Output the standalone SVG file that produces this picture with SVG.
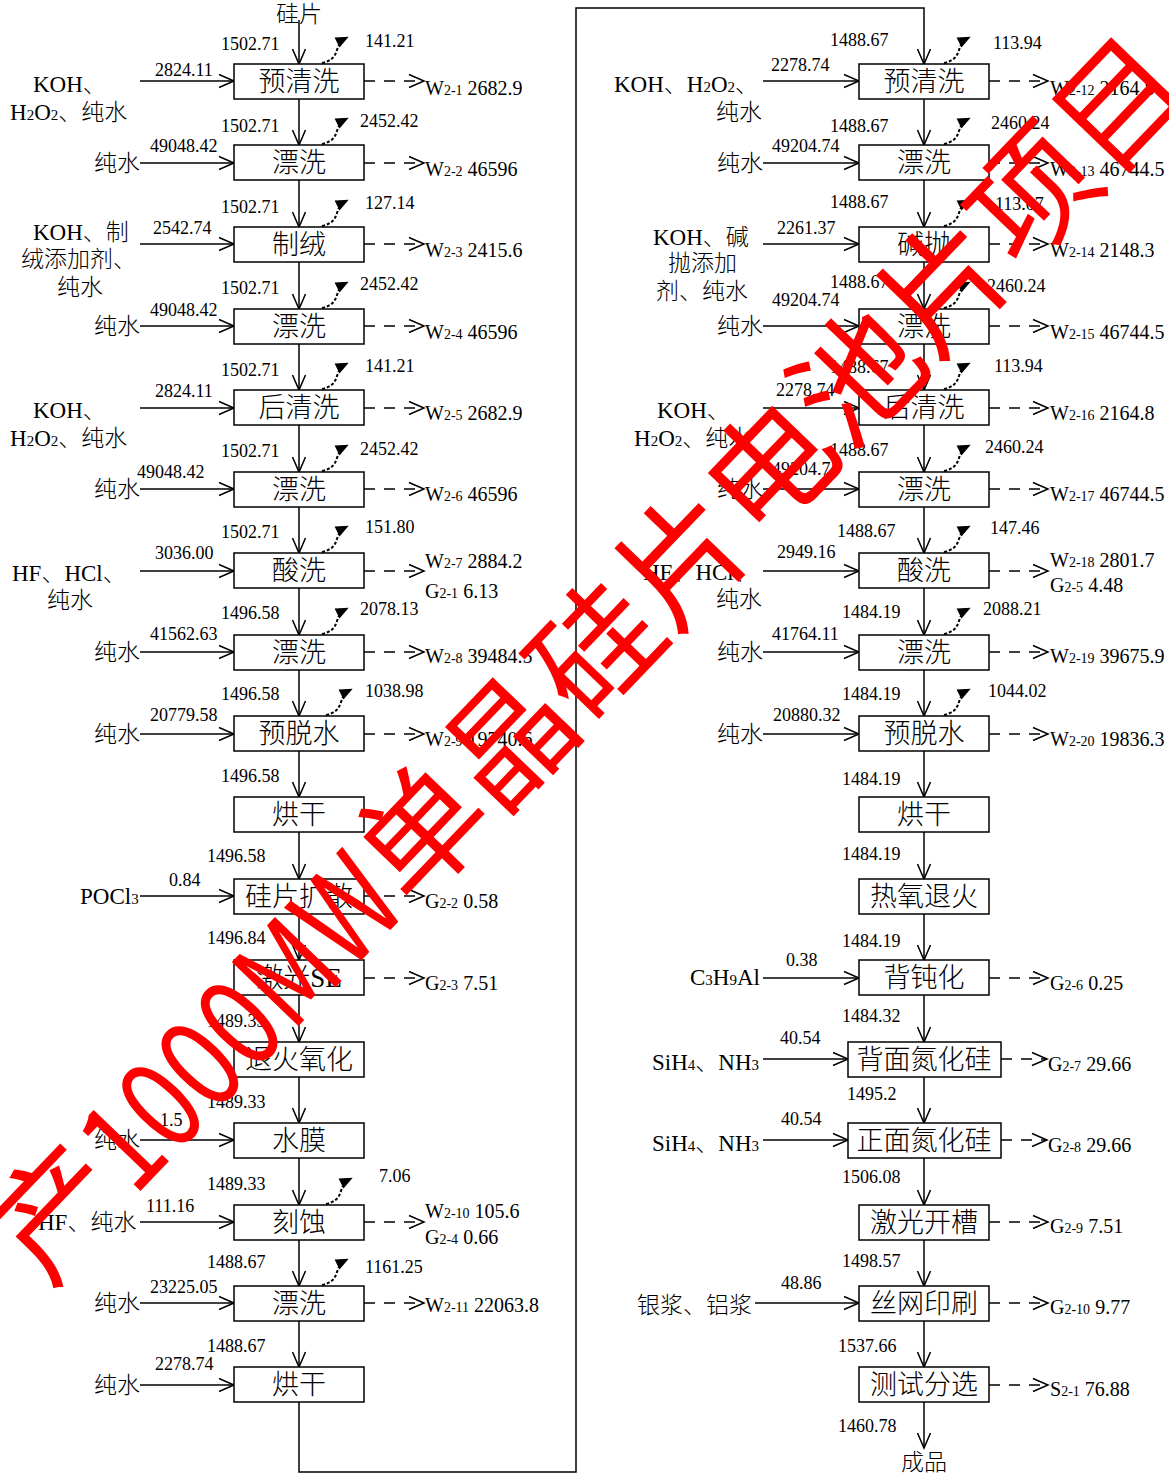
<svg xmlns="http://www.w3.org/2000/svg" xmlns:xlink="http://www.w3.org/1999/xlink" width="1169" height="1475" viewBox="0 0 1169 1475">
<style>
text{font-family:"Liberation Serif","Noto Sans CJK SC",serif;fill:#000;font-weight:300}
.n{font-size:18px}
.b{font-size:27px;text-anchor:middle}
.sd{font-size:23px}
.o{font-size:20px}
.s{font-size:14px}
.ss{font-size:15px}
.box{fill:#fff;stroke:#000;stroke-width:1.5}
.ln{fill:none;stroke:#000;stroke-width:1.5}
.ds{stroke-dasharray:11 9}
.gas{fill:none;stroke:#000;stroke-width:2;stroke-dasharray:3 2}
.wm{font-family:"Noto Sans CJK SC",sans-serif;font-size:126px;fill:#f00;font-weight:400}
</style>
<defs>
<marker id="a" markerUnits="userSpaceOnUse" markerWidth="18" markerHeight="16" refX="15" refY="7" orient="auto" overflow="visible">
<path d="M0,0.5 L15,7 L0,13.5" fill="none" stroke="#000" stroke-width="1.5"/>
</marker>
<marker id="t" markerUnits="userSpaceOnUse" markerWidth="14" markerHeight="12" refX="10" refY="5.5" orient="auto" overflow="visible">
<path d="M0,0 L13,5.5 L0,11 z" fill="#000"/>
</marker>
<path id="gas" class="gas" d="M0,0 C9,-2 13,-6 15,-13 C17,-20 20,-23 24,-25" marker-end="url(#t)"/>
</defs>
<rect width="1169" height="1475" fill="#fff"/>

<g id="connectors">
<path class="ln" d="M299,20 V64" marker-end="url(#a)"/>
<path class="ln" d="M299,99 V145" marker-end="url(#a)"/>
<path class="ln" d="M299,180 V227" marker-end="url(#a)"/>
<path class="ln" d="M299,262 V309" marker-end="url(#a)"/>
<path class="ln" d="M299,344 V390" marker-end="url(#a)"/>
<path class="ln" d="M299,425 V472" marker-end="url(#a)"/>
<path class="ln" d="M299,507 V553" marker-end="url(#a)"/>
<path class="ln" d="M299,588 V635" marker-end="url(#a)"/>
<path class="ln" d="M299,670 V716" marker-end="url(#a)"/>
<path class="ln" d="M299,751 V797" marker-end="url(#a)"/>
<path class="ln" d="M299,832 V879" marker-end="url(#a)"/>
<path class="ln" d="M299,914 V960" marker-end="url(#a)"/>
<path class="ln" d="M299,995 V1042" marker-end="url(#a)"/>
<path class="ln" d="M299,1077 V1123" marker-end="url(#a)"/>
<path class="ln" d="M299,1158 V1205" marker-end="url(#a)"/>
<path class="ln" d="M299,1240 V1286" marker-end="url(#a)"/>
<path class="ln" d="M299,1321 V1367" marker-end="url(#a)"/>
<path class="ln" d="M299,1402 V1472 H576 V8 H924 V64" marker-end="url(#a)"/>
<path class="ln" d="M924,99 V145" marker-end="url(#a)"/>
<path class="ln" d="M924,180 V227" marker-end="url(#a)"/>
<path class="ln" d="M924,262 V309" marker-end="url(#a)"/>
<path class="ln" d="M924,344 V390" marker-end="url(#a)"/>
<path class="ln" d="M924,425 V472" marker-end="url(#a)"/>
<path class="ln" d="M924,507 V553" marker-end="url(#a)"/>
<path class="ln" d="M924,588 V635" marker-end="url(#a)"/>
<path class="ln" d="M924,670 V716" marker-end="url(#a)"/>
<path class="ln" d="M924,751 V797" marker-end="url(#a)"/>
<path class="ln" d="M924,832 V879" marker-end="url(#a)"/>
<path class="ln" d="M924,914 V960" marker-end="url(#a)"/>
<path class="ln" d="M924,995 V1042" marker-end="url(#a)"/>
<path class="ln" d="M924,1077 V1123" marker-end="url(#a)"/>
<path class="ln" d="M924,1158 V1205" marker-end="url(#a)"/>
<path class="ln" d="M924,1240 V1286" marker-end="url(#a)"/>
<path class="ln" d="M924,1321 V1367" marker-end="url(#a)"/>
<path class="ln" d="M924,1402 V1448" marker-end="url(#a)"/>
<path class="ln" d="M140,81 H234" marker-end="url(#a)"/>
<path class="ln" d="M140,163 H234" marker-end="url(#a)"/>
<path class="ln" d="M140,244 H234" marker-end="url(#a)"/>
<path class="ln" d="M140,326 H234" marker-end="url(#a)"/>
<path class="ln" d="M140,408 H234" marker-end="url(#a)"/>
<path class="ln" d="M140,489 H234" marker-end="url(#a)"/>
<path class="ln" d="M140,571 H234" marker-end="url(#a)"/>
<path class="ln" d="M140,652 H234" marker-end="url(#a)"/>
<path class="ln" d="M140,734 H234" marker-end="url(#a)"/>
<path class="ln" d="M140,896 H234" marker-end="url(#a)"/>
<path class="ln" d="M140,1140 H234" marker-end="url(#a)"/>
<path class="ln" d="M140,1222 H234" marker-end="url(#a)"/>
<path class="ln" d="M140,1303 H234" marker-end="url(#a)"/>
<path class="ln" d="M140,1385 H234" marker-end="url(#a)"/>
<path class="ln" d="M763,81 H859" marker-end="url(#a)"/>
<path class="ln" d="M763,163 H859" marker-end="url(#a)"/>
<path class="ln" d="M763,244 H859" marker-end="url(#a)"/>
<path class="ln" d="M763,326 H859" marker-end="url(#a)"/>
<path class="ln" d="M763,408 H859" marker-end="url(#a)"/>
<path class="ln" d="M763,489 H859" marker-end="url(#a)"/>
<path class="ln" d="M763,571 H859" marker-end="url(#a)"/>
<path class="ln" d="M763,652 H859" marker-end="url(#a)"/>
<path class="ln" d="M763,734 H859" marker-end="url(#a)"/>
<path class="ln" d="M763,978 H859" marker-end="url(#a)"/>
<path class="ln" d="M763,1059 H848" marker-end="url(#a)"/>
<path class="ln" d="M763,1140 H848" marker-end="url(#a)"/>
<path class="ln" d="M755,1303 H859" marker-end="url(#a)"/>
<path class="ln ds" d="M364,81 H424" marker-end="url(#a)"/>
<path class="ln ds" d="M364,163 H424" marker-end="url(#a)"/>
<path class="ln ds" d="M364,244 H424" marker-end="url(#a)"/>
<path class="ln ds" d="M364,326 H424" marker-end="url(#a)"/>
<path class="ln ds" d="M364,408 H424" marker-end="url(#a)"/>
<path class="ln ds" d="M364,489 H424" marker-end="url(#a)"/>
<path class="ln ds" d="M364,571 H424" marker-end="url(#a)"/>
<path class="ln ds" d="M364,652 H424" marker-end="url(#a)"/>
<path class="ln ds" d="M364,734 H424" marker-end="url(#a)"/>
<path class="ln ds" d="M364,896 H424" marker-end="url(#a)"/>
<path class="ln ds" d="M364,978 H424" marker-end="url(#a)"/>
<path class="ln ds" d="M364,1222 H424" marker-end="url(#a)"/>
<path class="ln ds" d="M364,1303 H424" marker-end="url(#a)"/>
<path class="ln ds" d="M989,81 H1048" marker-end="url(#a)"/>
<path class="ln ds" d="M989,163 H1048" marker-end="url(#a)"/>
<path class="ln ds" d="M989,244 H1048" marker-end="url(#a)"/>
<path class="ln ds" d="M989,326 H1048" marker-end="url(#a)"/>
<path class="ln ds" d="M989,408 H1048" marker-end="url(#a)"/>
<path class="ln ds" d="M989,489 H1048" marker-end="url(#a)"/>
<path class="ln ds" d="M989,571 H1048" marker-end="url(#a)"/>
<path class="ln ds" d="M989,652 H1048" marker-end="url(#a)"/>
<path class="ln ds" d="M989,734 H1048" marker-end="url(#a)"/>
<path class="ln ds" d="M989,978 H1048" marker-end="url(#a)"/>
<path class="ln ds" d="M1001,1059 H1047" marker-end="url(#a)"/>
<path class="ln ds" d="M1001,1140 H1047" marker-end="url(#a)"/>
<path class="ln ds" d="M989,1222 H1048" marker-end="url(#a)"/>
<path class="ln ds" d="M989,1303 H1048" marker-end="url(#a)"/>
<path class="ln ds" d="M989,1385 H1048" marker-end="url(#a)"/>
<use xlink:href="#gas" x="322" y="63"/>
<use xlink:href="#gas" x="322" y="144"/>
<use xlink:href="#gas" x="322" y="226"/>
<use xlink:href="#gas" x="322" y="308"/>
<use xlink:href="#gas" x="322" y="389"/>
<use xlink:href="#gas" x="322" y="471"/>
<use xlink:href="#gas" x="322" y="552"/>
<use xlink:href="#gas" x="322" y="634"/>
<use xlink:href="#gas" x="326" y="715"/>
<use xlink:href="#gas" x="326" y="1204"/>
<use xlink:href="#gas" x="322" y="1285"/>
<use xlink:href="#gas" x="944" y="63"/>
<use xlink:href="#gas" x="944" y="144"/>
<use xlink:href="#gas" x="944" y="226"/>
<use xlink:href="#gas" x="944" y="308"/>
<use xlink:href="#gas" x="944" y="389"/>
<use xlink:href="#gas" x="944" y="471"/>
<use xlink:href="#gas" x="944" y="552"/>
<use xlink:href="#gas" x="944" y="634"/>
<use xlink:href="#gas" x="944" y="715"/>
</g>

<g id="nodes">
<g id="L1"><rect class="box" x="234" y="64" width="130" height="35"/><text class="b" x="299" y="91">预清洗</text></g>
<g id="L2"><rect class="box" x="234" y="145" width="130" height="35"/><text class="b" x="299" y="172">漂洗</text></g>
<g id="L3"><rect class="box" x="234" y="227" width="130" height="35"/><text class="b" x="299" y="254">制绒</text></g>
<g id="L4"><rect class="box" x="234" y="309" width="130" height="35"/><text class="b" x="299" y="336">漂洗</text></g>
<g id="L5"><rect class="box" x="234" y="390" width="130" height="35"/><text class="b" x="299" y="417">后清洗</text></g>
<g id="L6"><rect class="box" x="234" y="472" width="130" height="35"/><text class="b" x="299" y="499">漂洗</text></g>
<g id="L7"><rect class="box" x="234" y="553" width="130" height="35"/><text class="b" x="299" y="580">酸洗</text></g>
<g id="L8"><rect class="box" x="234" y="635" width="130" height="35"/><text class="b" x="299" y="662">漂洗</text></g>
<g id="L9"><rect class="box" x="234" y="716" width="130" height="35"/><text class="b" x="299" y="743">预脱水</text></g>
<g id="L10"><rect class="box" x="234" y="797" width="130" height="35"/><text class="b" x="299" y="824">烘干</text></g>
<g id="L11"><rect class="box" x="234" y="879" width="130" height="35"/><text class="b" x="299" y="906">硅片扩散</text></g>
<g id="L12"><rect class="box" x="234" y="960" width="130" height="35"/><text class="b" x="299" y="987">激光SE</text></g>
<g id="L13"><rect class="box" x="234" y="1042" width="130" height="35"/><text class="b" x="299" y="1069">退火氧化</text></g>
<g id="L14"><rect class="box" x="234" y="1123" width="130" height="35"/><text class="b" x="299" y="1150">水膜</text></g>
<g id="L15"><rect class="box" x="234" y="1205" width="130" height="35"/><text class="b" x="299" y="1232">刻蚀</text></g>
<g id="L16"><rect class="box" x="234" y="1286" width="130" height="35"/><text class="b" x="299" y="1313">漂洗</text></g>
<g id="L17"><rect class="box" x="234" y="1367" width="130" height="35"/><text class="b" x="299" y="1394">烘干</text></g>
<g id="R1"><rect class="box" x="859" y="64" width="130" height="35"/><text class="b" x="924" y="91">预清洗</text></g>
<g id="R2"><rect class="box" x="859" y="145" width="130" height="35"/><text class="b" x="924" y="172">漂洗</text></g>
<g id="R3"><rect class="box" x="859" y="227" width="130" height="35"/><text class="b" x="924" y="254">碱抛</text></g>
<g id="R4"><rect class="box" x="859" y="309" width="130" height="35"/><text class="b" x="924" y="336">漂洗</text></g>
<g id="R5"><rect class="box" x="859" y="390" width="130" height="35"/><text class="b" x="924" y="417">后清洗</text></g>
<g id="R6"><rect class="box" x="859" y="472" width="130" height="35"/><text class="b" x="924" y="499">漂洗</text></g>
<g id="R7"><rect class="box" x="859" y="553" width="130" height="35"/><text class="b" x="924" y="580">酸洗</text></g>
<g id="R8"><rect class="box" x="859" y="635" width="130" height="35"/><text class="b" x="924" y="662">漂洗</text></g>
<g id="R9"><rect class="box" x="859" y="716" width="130" height="35"/><text class="b" x="924" y="743">预脱水</text></g>
<g id="R10"><rect class="box" x="859" y="797" width="130" height="35"/><text class="b" x="924" y="824">烘干</text></g>
<g id="R11"><rect class="box" x="859" y="879" width="130" height="35"/><text class="b" x="924" y="906">热氧退火</text></g>
<g id="R12"><rect class="box" x="859" y="960" width="130" height="35"/><text class="b" x="924" y="987">背钝化</text></g>
<g id="R13"><rect class="box" x="848" y="1042" width="153" height="35"/><text class="b" x="924" y="1069">背面氮化硅</text></g>
<g id="R14"><rect class="box" x="848" y="1123" width="153" height="35"/><text class="b" x="924" y="1150">正面氮化硅</text></g>
<g id="R15"><rect class="box" x="859" y="1205" width="130" height="35"/><text class="b" x="924" y="1232">激光开槽</text></g>
<g id="R16"><rect class="box" x="859" y="1286" width="130" height="35"/><text class="b" x="924" y="1313">丝网印刷</text></g>
<g id="R17"><rect class="box" x="859" y="1367" width="130" height="35"/><text class="b" x="924" y="1394">测试分选</text></g>
</g>

<g id="labels">
<text class="sd" x="299" y="22" text-anchor="middle">硅片</text>
<text class="sd" x="924" y="1470" text-anchor="middle">成品</text>
<text class="n" x="221" y="50">1502.71</text>
<text class="n" x="221" y="132">1502.71</text>
<text class="n" x="221" y="213">1502.71</text>
<text class="n" x="221" y="294">1502.71</text>
<text class="n" x="221" y="376">1502.71</text>
<text class="n" x="221" y="457">1502.71</text>
<text class="n" x="221" y="538">1502.71</text>
<text class="n" x="221" y="619">1496.58</text>
<text class="n" x="221" y="700">1496.58</text>
<text class="n" x="221" y="782">1496.58</text>
<text class="n" x="207" y="862">1496.58</text>
<text class="n" x="207" y="944">1496.84</text>
<text class="n" x="207" y="1027">1489.33</text>
<text class="n" x="207" y="1108">1489.33</text>
<text class="n" x="207" y="1190">1489.33</text>
<text class="n" x="207" y="1268">1488.67</text>
<text class="n" x="207" y="1352">1488.67</text>
<text class="n" x="365" y="47">141.21</text>
<text class="n" x="360" y="127">2452.42</text>
<text class="n" x="365" y="209">127.14</text>
<text class="n" x="360" y="290">2452.42</text>
<text class="n" x="365" y="372">141.21</text>
<text class="n" x="360" y="455">2452.42</text>
<text class="n" x="365" y="533">151.80</text>
<text class="n" x="360" y="615">2078.13</text>
<text class="n" x="365" y="697">1038.98</text>
<text class="n" x="379" y="1182">7.06</text>
<text class="n" x="365" y="1273">1161.25</text>
<text class="n" x="155" y="76">2824.11</text>
<text class="n" x="150" y="152">49048.42</text>
<text class="n" x="153" y="234">2542.74</text>
<text class="n" x="150" y="316">49048.42</text>
<text class="n" x="155" y="397">2824.11</text>
<text class="n" x="137" y="478">49048.42</text>
<text class="n" x="155" y="559">3036.00</text>
<text class="n" x="150" y="640">41562.63</text>
<text class="n" x="150" y="721">20779.58</text>
<text class="n" x="169" y="886">0.84</text>
<text class="n" x="160" y="1126">1.5</text>
<text class="n" x="146" y="1212">111.16</text>
<text class="n" x="150" y="1293">23225.05</text>
<text class="n" x="155" y="1370">2278.74</text>
<text class="sd" x="33" y="92">KOH、</text>
<text class="sd" x="10" y="120">H<tspan class="ss">2</tspan>O<tspan class="ss">2</tspan>、纯水</text>
<text class="sd" x="94" y="171">纯水</text>
<text class="sd" x="33" y="240">KOH、制</text>
<text class="sd" x="21" y="267">绒添加剂、</text>
<text class="sd" x="57" y="295">纯水</text>
<text class="sd" x="94" y="334">纯水</text>
<text class="sd" x="33" y="418">KOH、</text>
<text class="sd" x="10" y="446">H<tspan class="ss">2</tspan>O<tspan class="ss">2</tspan>、纯水</text>
<text class="sd" x="94" y="497">纯水</text>
<text class="sd" x="12" y="581">HF、HCl、</text>
<text class="sd" x="47" y="608">纯水</text>
<text class="sd" x="94" y="660">纯水</text>
<text class="sd" x="94" y="742">纯水</text>
<text class="sd" x="80" y="904">POCl<tspan class="ss">3</tspan></text>
<text class="sd" x="94" y="1148">纯水</text>
<text class="sd" x="38" y="1230">HF、纯水</text>
<text class="sd" x="94" y="1311">纯水</text>
<text class="sd" x="94" y="1393">纯水</text>
<text class="o" x="425" y="95">W<tspan class="s">2-1</tspan> 2682.9</text>
<text class="o" x="425" y="176">W<tspan class="s">2-2</tspan> 46596</text>
<text class="o" x="425" y="257">W<tspan class="s">2-3</tspan> 2415.6</text>
<text class="o" x="425" y="339">W<tspan class="s">2-4</tspan> 46596</text>
<text class="o" x="425" y="420">W<tspan class="s">2-5</tspan> 2682.9</text>
<text class="o" x="425" y="501">W<tspan class="s">2-6</tspan> 46596</text>
<text class="o" x="425" y="568">W<tspan class="s">2-7</tspan> 2884.2</text>
<text class="o" x="425" y="598">G<tspan class="s">2-1</tspan> 6.13</text>
<text class="o" x="425" y="663">W<tspan class="s">2-8</tspan> 39484.5</text>
<text class="o" x="425" y="746">W<tspan class="s">2-9</tspan> 19740.6</text>
<text class="o" x="425" y="908">G<tspan class="s">2-2</tspan> 0.58</text>
<text class="o" x="425" y="990">G<tspan class="s">2-3</tspan> 7.51</text>
<text class="o" x="425" y="1218">W<tspan class="s">2-10</tspan> 105.6</text>
<text class="o" x="425" y="1244">G<tspan class="s">2-4</tspan> 0.66</text>
<text class="o" x="425" y="1312">W<tspan class="s">2-11</tspan> 22063.8</text>
<text class="n" x="830" y="46">1488.67</text>
<text class="n" x="830" y="132">1488.67</text>
<text class="n" x="830" y="208">1488.67</text>
<text class="n" x="830" y="288">1488.67</text>
<text class="n" x="830" y="373">1488.67</text>
<text class="n" x="830" y="456">1488.67</text>
<text class="n" x="837" y="537">1488.67</text>
<text class="n" x="842" y="618">1484.19</text>
<text class="n" x="842" y="700">1484.19</text>
<text class="n" x="842" y="785">1484.19</text>
<text class="n" x="842" y="860">1484.19</text>
<text class="n" x="842" y="947">1484.19</text>
<text class="n" x="842" y="1022">1484.32</text>
<text class="n" x="847" y="1100">1495.2</text>
<text class="n" x="842" y="1183">1506.08</text>
<text class="n" x="842" y="1267">1498.57</text>
<text class="n" x="838" y="1352">1537.66</text>
<text class="n" x="838" y="1432">1460.78</text>
<text class="n" x="993" y="49">113.94</text>
<text class="n" x="991" y="129">2460.24</text>
<text class="n" x="995" y="210">113.07</text>
<text class="n" x="987" y="292">2460.24</text>
<text class="n" x="994" y="372">113.94</text>
<text class="n" x="985" y="453">2460.24</text>
<text class="n" x="990" y="534">147.46</text>
<text class="n" x="983" y="615">2088.21</text>
<text class="n" x="988" y="697">1044.02</text>
<text class="n" x="771" y="71">2278.74</text>
<text class="n" x="772" y="152">49204.74</text>
<text class="n" x="777" y="234">2261.37</text>
<text class="n" x="772" y="306">49204.74</text>
<text class="n" x="776" y="396">2278.74</text>
<text class="n" x="772" y="475">49204.74</text>
<text class="n" x="777" y="558">2949.16</text>
<text class="n" x="772" y="640">41764.11</text>
<text class="n" x="773" y="721">20880.32</text>
<text class="n" x="786" y="966">0.38</text>
<text class="n" x="780" y="1044">40.54</text>
<text class="n" x="781" y="1125">40.54</text>
<text class="n" x="781" y="1289">48.86</text>
<text class="sd" x="614" y="92">KOH、H<tspan class="ss">2</tspan>O<tspan class="ss">2</tspan>、</text>
<text class="sd" x="716" y="120">纯水</text>
<text class="sd" x="717" y="171">纯水</text>
<text class="sd" x="653" y="245">KOH、碱</text>
<text class="sd" x="668" y="271">抛添加</text>
<text class="sd" x="656" y="299">剂、纯水</text>
<text class="sd" x="717" y="334">纯水</text>
<text class="sd" x="657" y="418">KOH、</text>
<text class="sd" x="634" y="446">H<tspan class="ss">2</tspan>O<tspan class="ss">2</tspan>、纯水</text>
<text class="sd" x="717" y="497">纯水</text>
<text class="sd" x="643" y="580">HF、HCl、</text>
<text class="sd" x="716" y="607">纯水</text>
<text class="sd" x="717" y="660">纯水</text>
<text class="sd" x="717" y="742">纯水</text>
<text class="sd" x="690" y="985">C<tspan class="ss">3</tspan>H<tspan class="ss">9</tspan>Al</text>
<text class="sd" x="652" y="1070">SiH<tspan class="ss">4</tspan>、NH<tspan class="ss">3</tspan></text>
<text class="sd" x="652" y="1151">SiH<tspan class="ss">4</tspan>、NH<tspan class="ss">3</tspan></text>
<text class="sd" x="637" y="1313">银浆、铝浆</text>
<text class="o" x="1050" y="95">W<tspan class="s">2-12</tspan> 2164.8</text>
<text class="o" x="1050" y="176">W<tspan class="s">2-13</tspan> 46744.5</text>
<text class="o" x="1050" y="257">W<tspan class="s">2-14</tspan> 2148.3</text>
<text class="o" x="1050" y="339">W<tspan class="s">2-15</tspan> 46744.5</text>
<text class="o" x="1050" y="420">W<tspan class="s">2-16</tspan> 2164.8</text>
<text class="o" x="1050" y="501">W<tspan class="s">2-17</tspan> 46744.5</text>
<text class="o" x="1050" y="567">W<tspan class="s">2-18</tspan> 2801.7</text>
<text class="o" x="1050" y="592">G<tspan class="s">2-5</tspan> 4.48</text>
<text class="o" x="1050" y="663">W<tspan class="s">2-19</tspan> 39675.9</text>
<text class="o" x="1050" y="746">W<tspan class="s">2-20</tspan> 19836.3</text>
<text class="o" x="1050" y="990">G<tspan class="s">2-6</tspan> 0.25</text>
<text class="o" x="1048" y="1071">G<tspan class="s">2-7</tspan> 29.66</text>
<text class="o" x="1048" y="1152">G<tspan class="s">2-8</tspan> 29.66</text>
<text class="o" x="1050" y="1233">G<tspan class="s">2-9</tspan> 7.51</text>
<text class="o" x="1050" y="1314">G<tspan class="s">2-10</tspan> 9.77</text>
<text class="o" x="1050" y="1396">S<tspan class="s">2-1</tspan> 76.88</text>
</g>

<g id="watermark" transform="translate(420,830) rotate(-46.2)">
<text class="wm" x="-463" y="48" text-anchor="end">产</text>
<text class="wm" x="-463" y="48" textLength="400" lengthAdjust="spacingAndGlyphs">1000MW</text>
<text class="wm" x="-63" y="48">单晶硅片电池片项目</text>
</g>
</svg>
